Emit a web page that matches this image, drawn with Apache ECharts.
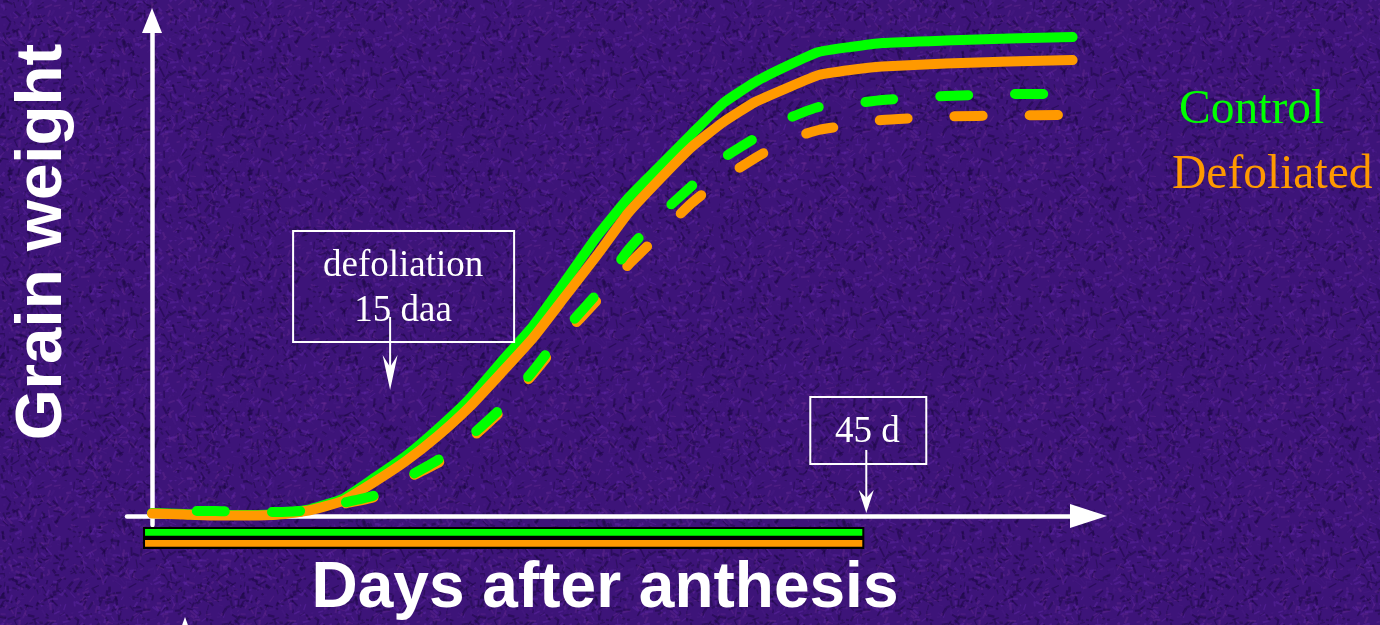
<!DOCTYPE html>
<html><head><meta charset="utf-8">
<script src="https://cdn.jsdelivr.net/npm/echarts@6/dist/echarts.min.js"></script>
<style>html,body{margin:0;padding:0;background:#3d1479}#c{width:1380px;height:625px;background-color:#3d1479}</style>
</head><body><div id="c"></div><script>
// ---- data (days after anthesis, grain weight in relative units) ----
const days = [0,2,4,6,8,10,12,14,16,18,20,22,24,26,28,30,32,34,36,38,40,42,44,46,50,54,58];
const controlSolid = [0.6,0.4,0.2,0.2,0.4,1.4,3.4,7.6,12,17.4,23.4,30.8,38,46.8,55.8,63.6,70,76.4,82.6,86.8,90,92.8,93.8,94.6,95.1,95.5,95.8];
const defoliatedSolid = [0.5,0.3,0.1,0.1,0.3,1.2,3.0,6.8,11,16,21.8,28.6,35.6,43.8,52,60.6,67.4,73.8,78.8,82.8,85.6,88.2,89.2,89.9,90.5,90.9,91.2];
const daysControlDashed = [0,2,4,6,8,10,12,14,16,18,20,22,24,26,28,30,32,34,36,38,40,42,44,46,50,54,56.5];
const controlDashed = [0.6,1.0,1.0,0.8,0.8,1.2,2.6,4.1,7.6,11.2,15.8,21.6,29,37.2,44.4,53.2,60.2,66,71.6,75.6,79.4,81.8,82.4,83.2,84,84.4,84.4];
const daysDefoliatedDashed = [0,2,4,6,8,10,12,14,16,18,20,22,24,26,28,30,32,34,36,38,40,42,44,46,50,54,57.3];
const defoliatedDashed = [0.6,0.8,0.8,0.6,0.6,1.0,2.4,3.8,7.4,10.6,15.2,21.0,28.4,36.2,43.0,50.2,56.4,62.6,67.6,71.6,75.2,77.2,78.2,79.2,79.9,80.1,80.2];
// grain-filling period bars (days)
const periodNames = ['Control','Defoliated'];
const periodStart = [-0.44,-0.44];
const periodEnd = [44.75,44.75];
// annotations
const defoliationDay = 15;
const maturityDay = 45;

const GREEN = '#00ff00', ORANGE = '#ff9900';
const X_MIN = -1.576, X_MAX = 59.0, Y_MIN = -1.8, Y_MAX = 99.1;

// ---- decorative background texture (deterministic) ----
(function () {
  const cv = document.createElement('canvas');
  cv.width = 240; cv.height = 240;
  const ctx = cv.getContext('2d');
  ctx.fillStyle = '#3d1479';
  ctx.fillRect(0, 0, 240, 240);
  let s = 12345;
  const rnd = () => { s = (s * 1103515245 + 12345) % 2147483648; return s / 2147483648; };
  const cols = ['rgba(30,8,70,0.55)', 'rgba(95,40,165,0.45)', 'rgba(70,25,130,0.5)', 'rgba(110,45,150,0.35)', 'rgba(25,10,60,0.4)'];
  for (let k = 0; k < 2600; k++) {
    const x = rnd() * 240, y = rnd() * 240, a = rnd() * Math.PI * 2, l = 2 + rnd() * 7;
    ctx.strokeStyle = cols[Math.floor(rnd() * cols.length)];
    ctx.lineWidth = 1 + rnd() * 1.5;
    ctx.beginPath();
    ctx.moveTo(x, y);
    ctx.lineTo(x + Math.cos(a) * l, y + Math.sin(a) * l);
    ctx.stroke();
  }
  document.getElementById('c').style.backgroundImage = 'url(' + cv.toDataURL() + ')';
})();

const zip = (xs, ys) => xs.map((x, i) => [x, ys[i]]);
const chart = echarts.init(document.getElementById('c'), null, {renderer: 'canvas'});

function lineSeries(name, xs, ys, color, dashed) {
  return {
    type: 'line', name, xAxisIndex: 0, yAxisIndex: 0,
    data: zip(xs, ys), showSymbol: false, symbol: 'none', smooth: 0.15,
    silent: true, animation: false,
    lineStyle: Object.assign({color, width: 10, cap: 'round', join: 'round'},
      dashed ? {type: [28, 47], dashOffset: 30} : {type: 'solid'})
  };
}

const option = {
  backgroundColor: 'transparent',
  animation: false,
  grid: [
    {left: 127, right: 291.5, top: 20.5, bottom: 100},
    {left: 127, right: 291.5, top: 527, height: 22}
  ],
  xAxis: [
    {type: 'value', gridIndex: 0, min: X_MIN, max: X_MAX,
     axisLine: {show: true, onZero: true, symbol: ['none', 'triangle'], symbolSize: [24, 37],
       lineStyle: {color: '#ffffff', width: 4.5}},
     axisTick: {show: false}, axisLabel: {show: false}, splitLine: {show: false}},
    {type: 'value', gridIndex: 1, min: X_MIN, max: X_MAX, show: false}
  ],
  yAxis: [
    {type: 'value', gridIndex: 0, min: Y_MIN, max: Y_MAX,
     axisLine: {show: true, onZero: true, symbol: ['none', 'triangle'], symbolSize: [20, 25],
       lineStyle: {color: '#ffffff', width: 4.5}},
     axisTick: {show: false}, axisLabel: {show: false}, splitLine: {show: false}},
    {type: 'value', gridIndex: 1, min: 0, max: 2, show: false}
  ],
  series: [
    lineSeries('Control', days, controlSolid, GREEN, false),
    lineSeries('Defoliated', days, defoliatedSolid, ORANGE, false),
    lineSeries('Defoliated (dashed)', daysDefoliatedDashed, defoliatedDashed, ORANGE, true),
    lineSeries('Control (dashed)', daysControlDashed, controlDashed, GREEN, true),
    {
      type: 'custom', name: 'Grain filling period', xAxisIndex: 1, yAxisIndex: 1,
      silent: true, animation: false,
      data: periodNames.map((n, i) => [periodStart[i], periodEnd[i], i]),
      renderItem: function (params, api) {
        const i = api.value(2);
        const p0 = api.coord([api.value(0), 2 - i]);
        const p1 = api.coord([api.value(1), 1 - i]);
        const color = i === 0 ? GREEN : ORANGE;
        return {type: 'group', children: [
          {type: 'rect', shape: {x: p0[0] - 2, y: p0[1], width: p1[0] - p0[0] + 4, height: p1[1] - p0[1]},
           style: {fill: '#000000'}},
          {type: 'rect', shape: {x: p0[0], y: p0[1] + 2, width: p1[0] - p0[0], height: p1[1] - p0[1] - 4.2},
           style: {fill: color}}
        ]};
      }
    }
  ]
};
chart.setOption(option);

// ---- annotations positioned from data coordinates ----
const serif = '"Liberation Serif", "Times New Roman", serif';
const sans = '"Liberation Sans", Arial, sans-serif';
const defX = chart.convertToPixel({gridIndex: 0}, [defoliationDay, 0])[0];
const defTop = chart.convertToPixel({gridIndex: 0}, [defoliationDay, 39.8])[1];
const defTip = chart.convertToPixel({gridIndex: 0}, [defoliationDay, 25.2])[1];
const matX = chart.convertToPixel({gridIndex: 0}, [maturityDay, 0])[0];
const matTip = chart.convertToPixel({gridIndex: 0}, [maturityDay, 0])[1] - 3;
const matTop = matTip - 63;

function notchedArrow(x, tip, len, w, notch) {
  return {type: 'polygon', silent: true, z: 20,
    shape: {points: [[x, tip], [x - w / 2, tip - len], [x, tip - len + notch], [x + w / 2, tip - len]]},
    style: {fill: '#ffffff'}};
}

chart.setOption({graphic: [
  // defoliation box
  {type: 'rect', silent: true, z: 20, shape: {x: defX - 97, y: 231, width: 221, height: 111},
   style: {fill: 'none', stroke: '#ffffff', lineWidth: 2}},
  {type: 'text', silent: true, z: 20, x: defX + 13, y: 266,
   style: {text: 'defoliation', fill: '#ffffff', font: '37px ' + serif, align: 'center', verticalAlign: 'middle'}},
  {type: 'text', silent: true, z: 20, x: defX + 13, y: 311,
   style: {text: '15 daa', fill: '#ffffff', font: '37px ' + serif, align: 'center', verticalAlign: 'middle'}},
  {type: 'line', silent: true, z: 20, shape: {x1: defX, y1: defTop, x2: defX, y2: defTip - 8},
   style: {stroke: '#ffffff', lineWidth: 2}},
  notchedArrow(defX, defTip, 35, 15, 12),
  // 45 d box
  {type: 'rect', silent: true, z: 20, shape: {x: matX - 56, y: 397, width: 116, height: 67},
   style: {fill: 'none', stroke: '#ffffff', lineWidth: 2}},
  {type: 'text', silent: true, z: 20, x: matX + 1, y: 432,
   style: {text: '45 d', fill: '#ffffff', font: '37px ' + serif, align: 'center', verticalAlign: 'middle'}},
  {type: 'line', silent: true, z: 20, shape: {x1: matX, y1: matTop, x2: matX, y2: matTip - 8},
   style: {stroke: '#ffffff', lineWidth: 2}},
  notchedArrow(matX, matTip, 23, 15, 8),
  // legend texts
  {type: 'text', silent: true, z: 20, x: 1179, y: 111,
   style: {text: 'Control', fill: GREEN, font: '47.5px ' + serif, align: 'left', verticalAlign: 'middle'}},
  {type: 'text', silent: true, z: 20, x: 1172, y: 176,
   style: {text: 'Defoliated', fill: ORANGE, font: '47.5px ' + serif, align: 'left', verticalAlign: 'middle'}},
  // axis titles
  {type: 'text', silent: true, z: 20, x: 605, y: 589,
   style: {text: 'Days after anthesis', fill: '#ffffff', font: 'bold 64px ' + sans, align: 'center', verticalAlign: 'middle'}},
  {type: 'text', silent: true, z: 20, x: 43, y: 242, rotation: Math.PI / 2,
   style: {text: 'Grain weight', fill: '#ffffff', font: 'bold 65.5px ' + sans, align: 'center', verticalAlign: 'middle'}},
  // partial arrow at bottom edge
  {type: 'polygon', silent: true, z: 20, shape: {points: [[185, 617], [176, 642], [194, 642]]},
   style: {fill: '#ffffff'}}
]});
</script></body></html>
